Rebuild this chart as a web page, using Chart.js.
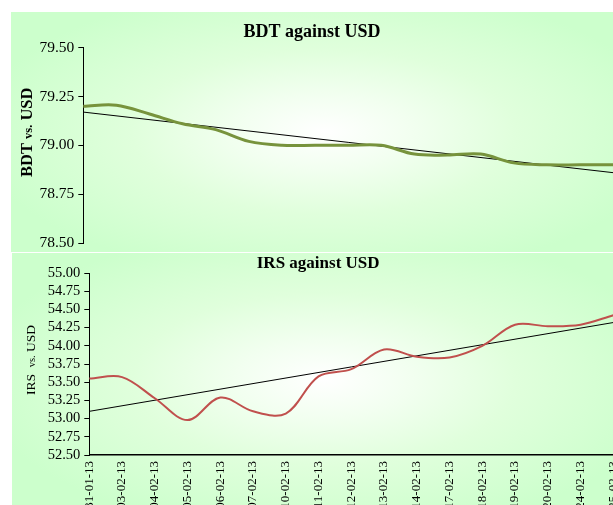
<!DOCTYPE html>
<html><head><meta charset="utf-8">
<script src="https://cdn.jsdelivr.net/npm/chart.js@4"></script>
<style>
html,body{margin:0;padding:0;background:#fff;overflow:hidden;width:613px;height:505px;}
.panel{position:absolute;overflow:hidden;background:radial-gradient(ellipse 58% 62% at 52% 50%, #ffffff 0%, #f2fff0 25%, #e0ffdc 55%, #ccffcc 100%);}
#p1{left:11px;top:12px;width:602px;height:240px;}
#p2{left:12px;top:253px;width:601px;height:252px;}
canvas{position:absolute;left:0;top:0;}
</style></head><body>
<div class="panel" id="p1"><canvas id="c1" width="640" height="240"></canvas></div>
<div class="panel" id="p2"><canvas id="c2" width="640" height="270"></canvas></div>
<script>
const dates = ['31-01-13','03-02-13','04-02-13','05-02-13','06-02-13','07-02-13','10-02-13','11-02-13','12-02-13','13-02-13','14-02-13','17-02-13','18-02-13','19-02-13','20-02-13','24-02-13','25-02-13'];
const bdtValues = [79.20,79.205,79.16,79.11,79.08,79.02,79.00,79.00,79.00,79.00,78.955,78.95,78.955,78.91,78.90,78.90,78.90];
const irsValues = [53.55,53.57,53.28,52.98,53.29,53.10,53.07,53.58,53.68,53.95,53.85,53.84,54.00,54.29,54.27,54.29,54.42];
const bdtTrend = [79.17, 78.86];
const irsTrend = [53.10, 54.32];
const bdtAxis = {min: 78.50, max: 79.50, step: 0.25};
const irsAxis = {min: 52.50, max: 55.00, step: 0.25};

const SERIF = "'Liberation Serif', 'Times New Roman', serif";

function trendData(ends) {
  const last = dates.length - 1;
  return dates.map((_, i) => i === 0 ? ends[0] : (i === last ? ends[1] : null));
}

const yTitlePlugin = {
  id: 'yTitle',
  afterDraw(chart, args, opts) {
    const ctx = chart.ctx;
    const ca = chart.chartArea;
    ctx.save();
    let total = 0;
    opts.parts.forEach(p => {
      ctx.font = `${p.weight} ${p.size}px ${SERIF}`;
      p.w = ctx.measureText(p.text).width;
      total += p.w;
    });
    const cy = (ca.top + ca.bottom) / 2 + opts.dy;
    ctx.translate(opts.x, cy);
    ctx.rotate(-Math.PI / 2);
    ctx.fillStyle = '#000';
    ctx.textBaseline = 'alphabetic';
    ctx.textAlign = 'left';
    let pos = -total / 2;
    opts.parts.forEach(p => {
      ctx.font = `${p.weight} ${p.size}px ${SERIF}`;
      ctx.fillText(p.text, pos, opts.base);
      pos += p.w;
    });
    ctx.restore();
  }
};

function yScale(axis, fontSize, width) {
  return {
    min: axis.min, max: axis.max,
    afterBuildTicks(s) {
      const t = [];
      for (let v = axis.min; v <= axis.max + 1e-9; v += axis.step) t.push({value: +v.toFixed(2)});
      s.ticks = t;
    },
    ticks: {
      autoSkip: false,
      callback: v => Number(v).toFixed(2),
      font: {family: SERIF, size: fontSize},
      color: '#000', padding: 4
    },
    grid: {drawOnChartArea: false, drawTicks: true, tickLength: 5, color: '#000', lineWidth: 1},
    border: {display: true, color: '#000', width: 1},
    afterFit(s) { s.width = width; s.paddingTop = 0; s.paddingBottom = 0; }
  };
}

new Chart(document.getElementById('c1'), {
  type: 'line',
  data: {
    labels: dates,
    datasets: [
      {data: bdtValues, borderColor: '#77933C', borderWidth: 3, pointRadius: 0, tension: 0.35, fill: false},
      {data: trendData(bdtTrend), borderColor: '#000', borderWidth: 1, pointRadius: 0, tension: 0, spanGaps: true, fill: false}
    ]
  },
  options: {
    responsive: false, animation: false, events: [],
    layout: {padding: {left: 0, right: 38, top: 0, bottom: 9}},
    plugins: {
      legend: {display: false}, tooltip: {enabled: false},
      title: {display: true, text: 'BDT against USD', color: '#000',
        font: {family: SERIF, size: 18, weight: 'bold', lineHeight: 1.2}, padding: {top: 10, bottom: 4}},
      yTitle: {x: 16, dy: -13, base: 5,
        parts: [{text: 'BDT ', size: 16.5, weight: 'bold'}, {text: 'vs.', size: 12.5, weight: 'bold'}, {text: ' USD', size: 16.5, weight: 'bold'}]}
    },
    scales: {
      x: {display: false, offset: false},
      y: yScale(bdtAxis, 15.5, 72.3)
    }
  },
  plugins: [yTitlePlugin]
});

new Chart(document.getElementById('c2'), {
  type: 'line',
  data: {
    labels: dates,
    datasets: [
      {data: irsValues, borderColor: '#C0504D', borderWidth: 2, pointRadius: 0, tension: 0.35, fill: false},
      {data: trendData(irsTrend), borderColor: '#000', borderWidth: 1, pointRadius: 0, tension: 0, spanGaps: true, fill: false}
    ]
  },
  options: {
    responsive: false, animation: false, events: [],
    layout: {padding: {left: 11, right: 38.7, top: 0, bottom: 0}},
    plugins: {
      legend: {display: false}, tooltip: {enabled: false},
      title: {display: true, text: 'IRS against USD', color: '#000',
        font: {family: SERIF, size: 17, weight: 'bold', lineHeight: 1.15}, padding: {top: 0.5, bottom: 0}},
      yTitle: {x: 18, dy: -4, base: 5,
        parts: [{text: 'IRS  ', size: 13.5, weight: 'normal'}, {text: 'vs.', size: 10.5, weight: 'normal'}, {text: ' USD', size: 13.5, weight: 'normal'}]}
    },
    scales: {
      x: {
        offset: false,
        ticks: {autoSkip: false, minRotation: 90, maxRotation: 90, font: {family: SERIF, size: 13}, color: '#000', padding: 6},
        grid: {display: true, drawOnChartArea: false, drawTicks: false},
        border: {display: true, color: '#000', width: 1.5},
        afterFit(s) { s.height = 68; s.paddingLeft = 0; s.paddingRight = 0; }
      },
      y: yScale(irsAxis, 14.5, 66.3)
    }
  },
  plugins: [yTitlePlugin]
});
</script>
</body></html>
